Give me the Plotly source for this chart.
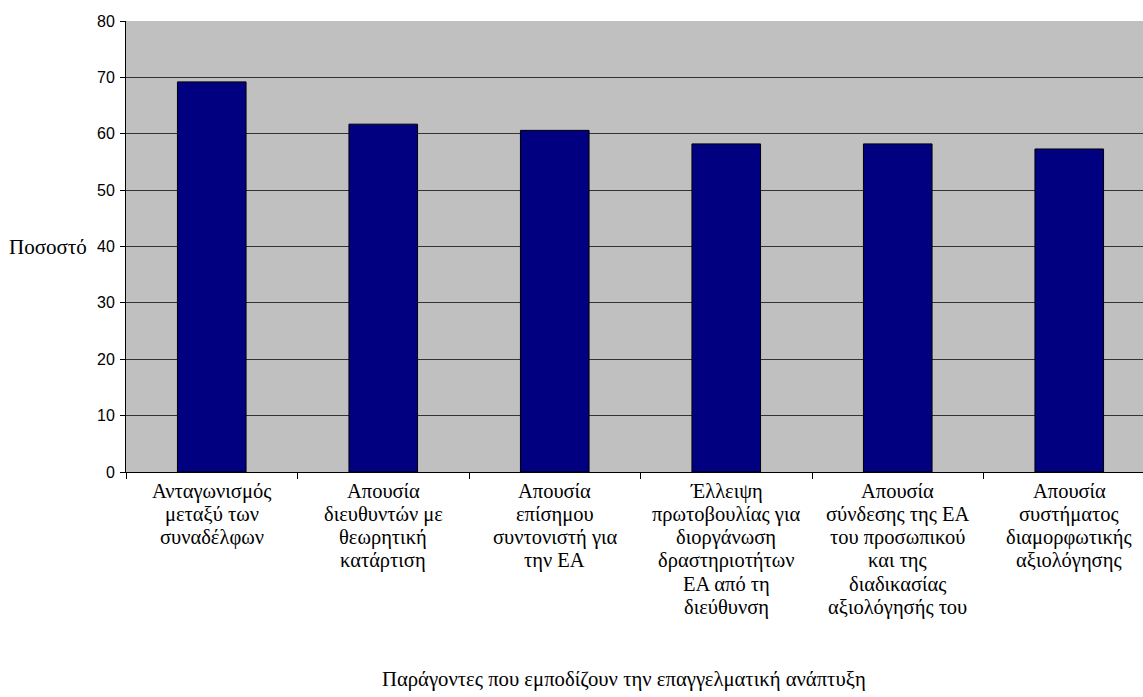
import plotly.graph_objects as go

# Factors hindering professional development and the share of respondents (%)
category_lines = [
    ["Ανταγωνισμός", "μεταξύ των", "συναδέλφων"],
    ["Απουσία", "διευθυντών με", "θεωρητική", "κατάρτιση"],
    ["Απουσία", "επίσημου", "συντονιστή για", "την ΕΑ"],
    ["Έλλειψη", "πρωτοβουλίας για", "διοργάνωση", "δραστηριοτήτων", "ΕΑ από τη", "διεύθυνση"],
    ["Απουσία", "σύνδεσης της ΕΑ", "του προσωπικού", "και της", "διαδικασίας", "αξιολόγησής του"],
    ["Απουσία", "συστήματος", "διαμορφωτικής", "αξιολόγησης"],
]
values = [69.2, 61.7, 60.6, 58.2, 58.2, 57.3]
y_ticks = [0, 10, 20, 30, 40, 50, 60, 70, 80]

x_title = "Παράγοντες που εμποδίζουν την επαγγελματική ανάπτυξη"
y_title = "Ποσοστό"

serif = "Liberation Serif"
sans = "Liberation Sans"
label_size = 20.5
line_step = 23.3  # px between wrapped label lines
first_line_offset = 19  # px from the axis line to the first label line

keys = [str(i) for i in range(len(category_lines))]

fig = go.Figure(
    go.Bar(
        x=keys,
        y=values,
        width=0.4,
        marker=dict(color="#000080", line=dict(color="#000000", width=1)),
    )
)

# category labels hang under the axis, one annotation per wrapped line
cat_annotations = [
    dict(
        text=line, xref="x", yref="paper", x=k, y=0,
        xanchor="center", yanchor="middle",
        yshift=-(first_line_offset + i * line_step), showarrow=False,
        font=dict(family=serif, size=label_size, color="#000000"),
    )
    for k, lines in zip(keys, category_lines)
    for i, line in enumerate(lines)
]

fig.update_layout(
    width=1143,
    height=697,
    margin=dict(l=126, r=0, t=21, b=225),
    paper_bgcolor="white",
    plot_bgcolor="#C0C0C0",
    showlegend=False,
    font=dict(family=serif),
    annotations=cat_annotations + [
        dict(
            text=y_title, xref="paper", yref="y", x=-0.036, y=40,
            xanchor="right", yanchor="middle", showarrow=False,
            font=dict(family=serif, size=21, color="#000000"),
        ),
        dict(
            text=x_title, xref="paper", yref="paper", x=0.49, y=-0.46,
            xanchor="center", yanchor="middle", showarrow=False,
            font=dict(family=serif, size=20.7, color="#000000"),
        ),
    ],
)

fig.update_xaxes(
    type="category",
    tickmode="array",
    tickvals=keys,
    showticklabels=False,
    tickson="boundaries",
    range=[-0.5, 5.43],
    showgrid=False,
    showline=True,
    linecolor="#000000",
    linewidth=1,
    ticks="outside",
    ticklen=6,
    tickcolor="#000000",
    zeroline=False,
)

fig.update_yaxes(
    range=[0, 80],
    tickvals=y_ticks,
    showgrid=True,
    gridcolor="#333333",
    gridwidth=1,
    showline=True,
    linecolor="#000000",
    linewidth=1,
    ticks="outside",
    ticklen=5,
    tickcolor="#000000",
    tickfont=dict(family=sans, size=16, color="#000000"),
    ticklabelstandoff=2,
    zeroline=False,
)

fig.write_html("out.html")
